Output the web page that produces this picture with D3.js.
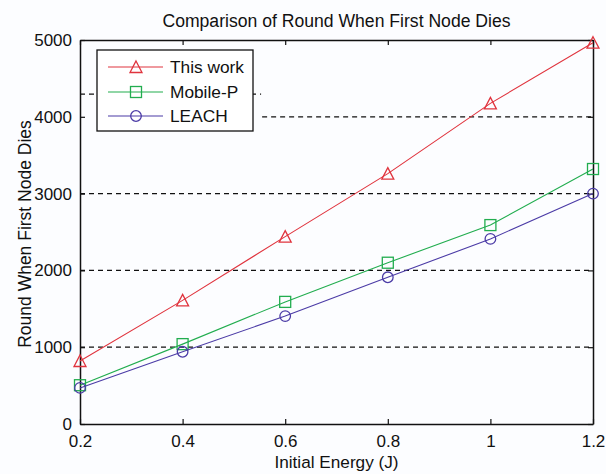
<!DOCTYPE html>
<html><head><meta charset="utf-8">
<script src="https://cdn.jsdelivr.net/npm/d3@7"></script>
<style>
body{margin:0;background:#fcfdff;}
text{font-family:"Liberation Sans",Arial,sans-serif;fill:#111;}
</style></head>
<body>
<svg id="c" width="606" height="474"></svg>
<script>
const energy = [0.2, 0.4, 0.6, 0.8, 1.0, 1.2];
const thisWork = [820, 1610, 2440, 3260, 4175, 4965];
const mobileP = [505, 1040, 1590, 2100, 2590, 3320];
const leach = [470, 940, 1405, 1910, 2410, 3000];
const xTicks = [0.2, 0.4, 0.6, 0.8, 1.0, 1.2];
const yTicks = [0, 1000, 2000, 3000, 4000, 5000];
const seriesNames = ["This work", "Mobile-P", "LEACH"];
const colors = ["#e0343e", "#22ad4f", "#4b3ba6"];
const markers = ["triangle", "square", "circle"];

const svg = d3.select("#c");
const L = 80, R = 593, T = 40, B = 424;
const x = d3.scaleLinear().domain([0.2, 1.2]).range([L, R]);
const y = d3.scaleLinear().domain([0, 5000]).range([B, T]);

// gridlines (dashed)
const grid = svg.append("g");
[1000, 2000, 3000].forEach(v => {
  grid.append("line").attr("x1", x(0.2)).attr("x2", x(1.2)).attr("y1", y(v)).attr("y2", y(v));
});
grid.append("line").attr("x1", x(0.555)).attr("x2", x(1.2)).attr("y1", y(4000)).attr("y2", y(4000));
grid.append("line").attr("x1", x(0.2)).attr("x2", x(0.553)).attr("y1", y(4295)).attr("y2", y(4295));
grid.selectAll("line").attr("stroke", "#111").attr("stroke-width", 1.3).attr("stroke-dasharray", "5,4");

// axes
const fmtX = d => String(+d.toFixed(1));
const ax = svg.append("g").attr("transform", `translate(0,${B})`)
  .call(d3.axisBottom(x).tickValues(xTicks).tickSizeInner(-5).tickSizeOuter(0).tickPadding(11).tickFormat(fmtX));
const axT = svg.append("g").attr("transform", `translate(0,${T})`)
  .call(d3.axisTop(x).tickValues(xTicks).tickSizeInner(-5).tickSizeOuter(0).tickFormat(""));
const ay = svg.append("g").attr("transform", `translate(${L},0)`)
  .call(d3.axisLeft(y).tickValues(yTicks).tickSizeInner(-5).tickSizeOuter(0).tickPadding(8).tickFormat(d3.format("d")));
const ayR = svg.append("g").attr("transform", `translate(${R},0)`)
  .call(d3.axisRight(y).tickValues(yTicks).tickSizeInner(-5).tickSizeOuter(0).tickFormat(""));
[ax, axT, ay, ayR].forEach(g => {
  g.select(".domain").attr("stroke", "#111").attr("stroke-width", 1.5);
  g.selectAll(".tick line").attr("stroke", "#111").attr("stroke-width", 1.2);
  g.selectAll(".tick text").attr("font-size", 17).attr("fill", "#111")
    .attr("font-family", "Liberation Sans, Arial, sans-serif");
});
ax.selectAll(".tick text").attr("dy", "0.72em");

// series
const data = [thisWork, mobileP, leach];
const line = d3.line().x((d, i) => x(energy[i])).y(d => y(d));
function drawMarker(g, type, cx, cy, color) {
  if (type === "triangle") {
    const s = 6;
    g.append("path").attr("d", `M${cx},${cy - s}L${cx + s},${cy + s - 0.5}L${cx - s},${cy + s - 0.5}Z`)
      .attr("fill", "none").attr("stroke", color).attr("stroke-width", 1.3);
  } else if (type === "square") {
    const s = 5.5;
    g.append("rect").attr("x", cx - s).attr("y", cy - s).attr("width", 2 * s).attr("height", 2 * s)
      .attr("fill", "none").attr("stroke", color).attr("stroke-width", 1.3);
  } else {
    g.append("circle").attr("cx", cx).attr("cy", cy).attr("r", 5.3)
      .attr("fill", "none").attr("stroke", color).attr("stroke-width", 1.3);
  }
}
data.forEach((vals, k) => {
  const g = svg.append("g");
  g.append("path").datum(vals).attr("d", line).attr("fill", "none")
    .attr("stroke", colors[k]).attr("stroke-width", 1.1);
  vals.forEach((v, i) => drawMarker(g, markers[k], x(energy[i]), y(v), colors[k]));
});

// legend
const lg = svg.append("g");
lg.append("rect").attr("x", 97).attr("y", 50).attr("width", 156).attr("height", 81)
  .attr("fill", "#ffffff").attr("stroke", "#111").attr("stroke-width", 1.3);
const rowY = [67, 92, 116];
seriesNames.forEach((n, k) => {
  lg.append("line").attr("x1", 108).attr("x2", 163).attr("y1", rowY[k]).attr("y2", rowY[k])
    .attr("stroke", colors[k]).attr("stroke-width", 1.1);
  drawMarker(lg, markers[k], 136, rowY[k], colors[k]);
  lg.append("text").attr("x", 170).attr("y", rowY[k]).attr("dy", "0.36em")
    .attr("font-size", 17.3).text(n);
});

// title & labels
svg.append("text").attr("x", (L + R) / 2).attr("y", 27).attr("text-anchor", "middle")
  .attr("font-size", 17.6).text("Comparison of Round When First Node Dies");
svg.append("text").attr("x", (L + R) / 2).attr("y", 468).attr("text-anchor", "middle")
  .attr("font-size", 17.2).text("Initial Energy (J)");
svg.append("text").attr("transform", `translate(31,${(T + B) / 2 + 2}) rotate(-90)`)
  .attr("text-anchor", "middle").attr("font-size", 17.5).text("Round When First Node Dies");
</script>
</body></html>
